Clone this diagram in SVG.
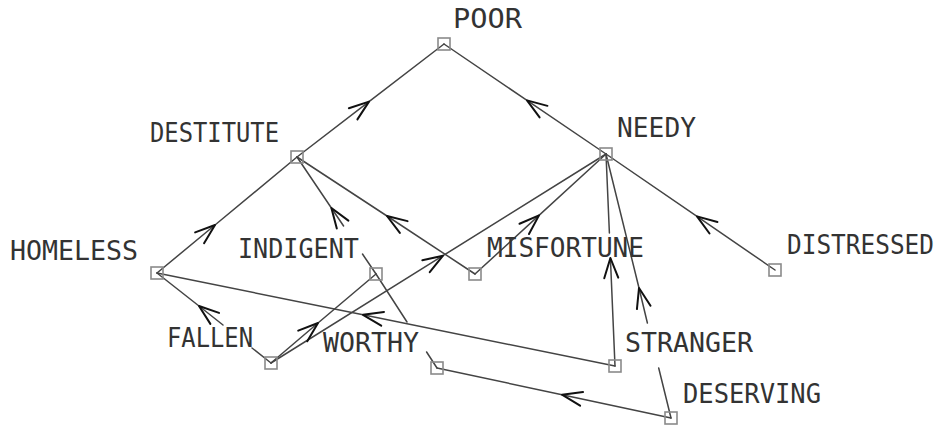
<svg xmlns="http://www.w3.org/2000/svg" width="946" height="427" viewBox="0 0 946 427">
  <style>
    .edge { fill: none; stroke: #444; stroke-width: 1.5; stroke-linecap: round; }
    .box { fill: none; stroke: #8a8a8a; stroke-width: 1.6; }
    .lbl { font-family: "DejaVu Sans Mono", "Liberation Mono", monospace; font-size: 26px; fill: #333; }
  </style>
  <defs>
    <!-- open chevron arrowhead, tip at the marker origin -->
    <marker id="arr" markerUnits="userSpaceOnUse" orient="auto" refX="0" refY="0"
            markerWidth="30" markerHeight="30" viewBox="-25 -15 30 30" overflow="visible">
      <path d="M -20 -7 L 0 0 L -20 7" fill="none" stroke="#111" stroke-width="2" stroke-linecap="round" stroke-linejoin="round"/>
    </marker>
  </defs>
  <rect width="946" height="427" fill="#fff"/>

  <g id="connectors">
    <!-- DESTITUTE -> POOR -->
    <path class="edge" d="M 297 157 L 369 101.6 L 444 44" marker-mid="url(#arr)"/>
    <!-- NEEDY -> POOR -->
    <path class="edge" d="M 606 154 L 527 100.4 L 444 44" marker-mid="url(#arr)"/>
    <!-- HOMELESS -> DESTITUTE -->
    <path class="edge" d="M 157 273 L 215 225 L 297 157" marker-mid="url(#arr)"/>
    <!-- INDIGENT -> DESTITUTE (broken under the INDIGENT label) -->
    <path class="edge" d="M 376 274 L 362.5 254"/>
    <path class="edge" d="M 343.6 226 L 331.4 208 L 297 157" marker-mid="url(#arr)"/>
    <!-- MISFORTUNE -> DESTITUTE -->
    <path class="edge" d="M 475 274 L 387 216 L 297 157" marker-mid="url(#arr)"/>
    <!-- MISFORTUNE -> NEEDY -->
    <path class="edge" d="M 475 274 L 539 215.4 L 606 154" marker-mid="url(#arr)"/>
    <!-- DISTRESSED -> NEEDY -->
    <path class="edge" d="M 775 270 L 697 216.4 L 606 154" marker-mid="url(#arr)"/>
    <!-- FALLEN -> NEEDY -->
    <path class="edge" d="M 271 363 L 443 255.7 L 606 154" marker-mid="url(#arr)"/>
    <!-- FALLEN -> INDIGENT -->
    <path class="edge" d="M 271 363 L 318 323 L 376 274" marker-mid="url(#arr)"/>
    <!-- FALLEN -> HOMELESS (broken under the FALLEN label) -->
    <path class="edge" d="M 271 363 L 252 348"/>
    <path class="edge" d="M 223 325 L 199 306 L 157 273" marker-mid="url(#arr)"/>
    <!-- STRANGER -> HOMELESS -->
    <path class="edge" d="M 615 366 L 363 314.8 L 157 273" marker-mid="url(#arr)"/>
    <!-- STRANGER -> NEEDY (broken under the MISFORTUNE label) -->
    <path class="edge" d="M 615 366 L 610.4 258" marker-end="url(#arr)"/>
    <path class="edge" d="M 609.4 233 L 606 154"/>
    <!-- DESERVING -> NEEDY (broken under the STRANGER label) -->
    <path class="edge" d="M 671 418 L 658.7 368"/>
    <path class="edge" d="M 647.4 323 L 639 288 L 606 154" marker-mid="url(#arr)"/>
    <!-- DESERVING -> WORTHY -->
    <path class="edge" d="M 671 418 L 562 394.7 L 437 368" marker-mid="url(#arr)"/>
    <!-- WORTHY - INDIGENT (broken under the WORTHY label) -->
    <path class="edge" d="M 437 368 L 426.6 352"/>
    <path class="edge" d="M 407 322 L 376 274"/>
  </g>

  <g id="poor">
    <rect class="box" x="438" y="38" width="12" height="12"/>
    <text class="lbl" x="453" y="28" textLength="69" lengthAdjust="spacingAndGlyphs">POOR</text>
  </g>
  <g id="destitute">
    <rect class="box" x="291" y="151" width="12" height="12"/>
    <text class="lbl" x="150" y="142" textLength="129" lengthAdjust="spacingAndGlyphs">DESTITUTE</text>
  </g>
  <g id="needy">
    <rect class="box" x="600" y="148" width="12" height="12"/>
    <text class="lbl" x="617" y="137" textLength="79" lengthAdjust="spacingAndGlyphs">NEEDY</text>
  </g>
  <g id="homeless">
    <rect class="box" x="151" y="267" width="12" height="12"/>
    <text class="lbl" x="10" y="260" textLength="128" lengthAdjust="spacingAndGlyphs">HOMELESS</text>
  </g>
  <g id="indigent">
    <rect class="box" x="370" y="268" width="12" height="12"/>
    <text class="lbl" x="238" y="258" textLength="121" lengthAdjust="spacingAndGlyphs">INDIGENT</text>
  </g>
  <g id="misfortune">
    <rect class="box" x="469" y="268" width="12" height="12"/>
    <text class="lbl" x="487" y="257" textLength="157" lengthAdjust="spacingAndGlyphs">MISFORTUNE</text>
  </g>
  <g id="distressed">
    <rect class="box" x="769" y="264" width="12" height="12"/>
    <text class="lbl" x="787" y="254" textLength="147" lengthAdjust="spacingAndGlyphs">DISTRESSED</text>
  </g>
  <g id="fallen">
    <rect class="box" x="265" y="357" width="12" height="12"/>
    <text class="lbl" x="167" y="347" textLength="86" lengthAdjust="spacingAndGlyphs">FALLEN</text>
  </g>
  <g id="worthy">
    <rect class="box" x="431" y="362" width="12" height="12"/>
    <text class="lbl" x="323" y="352" textLength="96" lengthAdjust="spacingAndGlyphs">WORTHY</text>
  </g>
  <g id="stranger">
    <rect class="box" x="609" y="360" width="12" height="12"/>
    <text class="lbl" x="625" y="352" textLength="128" lengthAdjust="spacingAndGlyphs">STRANGER</text>
  </g>
  <g id="deserving">
    <rect class="box" x="665" y="412" width="12" height="12"/>
    <text class="lbl" x="683" y="403" textLength="138" lengthAdjust="spacingAndGlyphs">DESERVING</text>
  </g>
</svg>
